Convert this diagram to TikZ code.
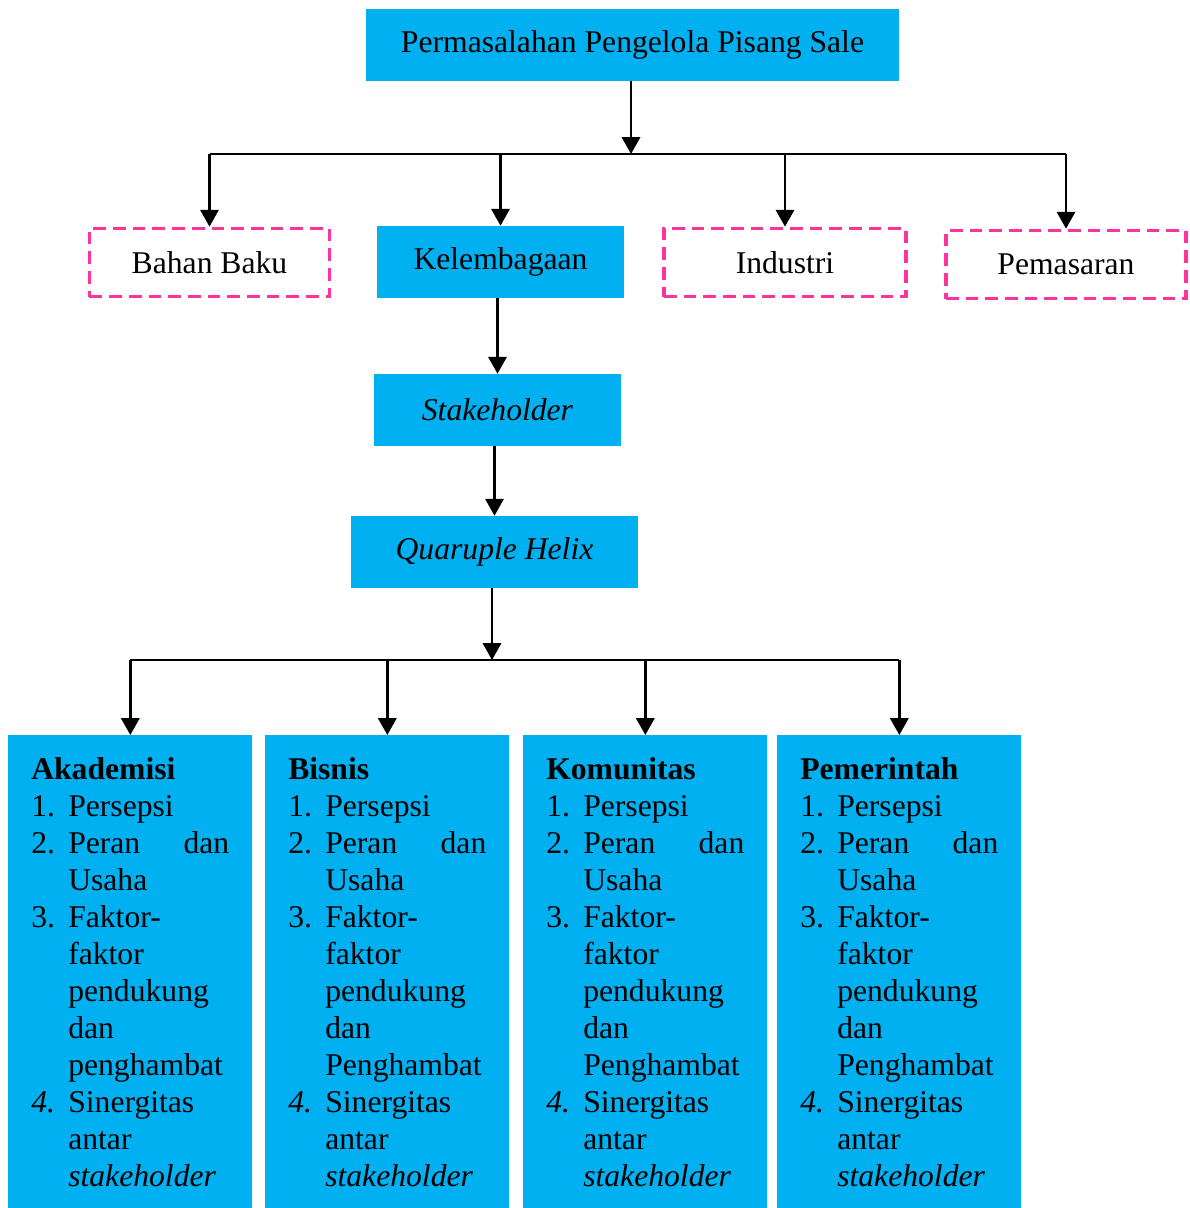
\documentclass[tikz,border=0pt]{standalone}
\usepackage{fontspec}
\setmainfont{Liberation Serif}
\usetikzlibrary{arrows.meta}

\definecolor{boxblue}{RGB}{0,176,240}
\definecolor{dashpink}{RGB}{255,51,153}
\newcommand{\itm}[1]{\makebox[0.925cm][l]{#1}}
\newcommand{\spread}{\hskip 0pt plus 1filll}

\begin{document}
\begin{tikzpicture}[
    x=0.025cm, y=-0.025cm,
    >={Triangle[width=13pt,length=12pt]},
    font=\fontsize{22.5}{26.3}\selectfont,
    arr/.style={->, line width=1.8pt},
    bus/.style={line width=1.2pt},
    fbox/.style={fill=boxblue, align=center, inner sep=0pt, minimum height=1.8cm},
    dbox/.style={draw=dashpink, dash pattern=on 9pt off 5pt, line width=2.6pt, align=center, inner sep=0pt, minimum height=1.7cm},
    listbox/.style={fill=boxblue, align=left, text width=4.95cm, inner xsep=0.575cm, inner ysep=0pt, minimum height=11.825cm, anchor=north west}
]
\useasboundingbox (0,0) rectangle (1189,1208);

% =========================================================
% 1) PROBLEM AND FOUR ASPECTS
% =========================================================
\node[fbox, minimum width=13.325cm] (masalah) at (632.5,45) {Permasalahan Pengelola Pisang Sale};

\node[dbox, minimum width=6.0cm] (bahan) at (209.5,262.5) {Bahan Baku};
\node[fbox, minimum width=6.175cm] (lembaga) at (500.5,262) {Kelembagaan};
\node[dbox, minimum width=6.05cm] (industri) at (785,262.5) {Industri};
\node[dbox, minimum width=6.0cm] (pasar) at (1066,264.5) {Pemasaran};

\coordinate (busTop) at (631,154);
\draw[arr] (masalah.south -| busTop) -- (busTop);
\draw[bus] (busTop -| bahan.north) -- (busTop -| pasar.north);
\draw[arr] (busTop -| bahan.north) -- (bahan.north);
\draw[arr] (busTop -| lembaga.north) -- (lembaga.north);
\draw[arr] (busTop -| industri.north) -- (industri.north);
\draw[arr] (busTop -| pasar.north) -- (pasar.north);

% =========================================================
% 2) STAKEHOLDER AND HELIX
% =========================================================
\node[fbox, minimum width=6.175cm] (stake) at (497.5,410) {\textit{Stakeholder}};
\node[fbox, minimum width=7.175cm] (helix) at (494.5,552) {\textit{Quaruple Helix}};

\draw[arr] (lembaga.south -| stake.north) -- (stake.north);
\draw[arr] (stake.south -| helix.north) -- (helix.north);

% =========================================================
% 3) FOUR HELIX ACTORS
% =========================================================
\node[listbox] (akademisi) at (8,735) {\textbf{Akademisi}\\
\itm{1.}Persepsi\\
\itm{2.}Peran\spread dan\\
\itm{}Usaha\\
\itm{3.}Faktor-\\
\itm{}faktor\\
\itm{}pendukung\\
\itm{}dan\\
\itm{}penghambat\\
\itm{\textit{4.}}Sinergitas\\
\itm{}antar\\
\itm{}\textit{stakeholder}};

\node[listbox] (bisnis) at (265,735) {\textbf{Bisnis}\\
\itm{1.}Persepsi\\
\itm{2.}Peran\spread dan\\
\itm{}Usaha\\
\itm{3.}Faktor-\\
\itm{}faktor\\
\itm{}pendukung\\
\itm{}dan\\
\itm{}Penghambat\\
\itm{\textit{4.}}Sinergitas\\
\itm{}antar\\
\itm{}\textit{stakeholder}};

\node[listbox] (komunitas) at (523,735) {\textbf{Komunitas}\\
\itm{1.}Persepsi\\
\itm{2.}Peran\spread dan\\
\itm{}Usaha\\
\itm{3.}Faktor-\\
\itm{}faktor\\
\itm{}pendukung\\
\itm{}dan\\
\itm{}Penghambat\\
\itm{\textit{4.}}Sinergitas\\
\itm{}antar\\
\itm{}\textit{stakeholder}};

\node[listbox] (pemerintah) at (777,735) {\textbf{Pemerintah}\\
\itm{1.}Persepsi\\
\itm{2.}Peran\spread dan\\
\itm{}Usaha\\
\itm{3.}Faktor-\\
\itm{}faktor\\
\itm{}pendukung\\
\itm{}dan\\
\itm{}Penghambat\\
\itm{\textit{4.}}Sinergitas\\
\itm{}antar\\
\itm{}\textit{stakeholder}};

\coordinate (busBot) at (492,660);
\draw[arr] (helix.south -| busBot) -- (busBot);
\draw[bus] (busBot -| akademisi.north) -- (busBot -| pemerintah.north);
\draw[arr] (busBot -| akademisi.north) -- (akademisi.north);
\draw[arr] (busBot -| bisnis.north) -- (bisnis.north);
\draw[arr] (busBot -| komunitas.north) -- (komunitas.north);
\draw[arr] (busBot -| pemerintah.north) -- (pemerintah.north);

\end{tikzpicture}
\end{document}
